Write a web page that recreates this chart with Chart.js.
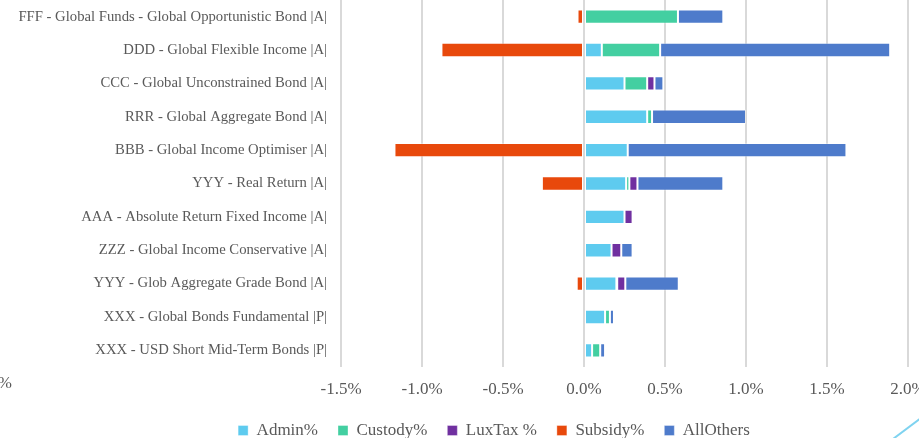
<!DOCTYPE html>
<html>
<head>
<meta charset="utf-8">
<script src="https://cdn.jsdelivr.net/npm/chart.js@4"></script>
<style>
html,body{margin:0;padding:0;background:#fff;}
#wrap{width:919px;height:438px;position:relative;}
</style>
</head>
<body>
<div id="wrap"><canvas id="myChart" width="919" height="438"></canvas></div>
<script>
const funds = [
"FFF - Global Funds - Global Opportunistic Bond |A|",
"DDD - Global Flexible Income |A|",
"CCC - Global Unconstrained Bond |A|",
"RRR - Global Aggregate Bond |A|",
"BBB - Global Income Optimiser |A|",
"YYY - Real Return |A|",
"AAA - Absolute Return Fixed Income |A|",
"ZZZ - Global Income Conservative |A|",
"YYY - Glob Aggregate Grade Bond |A|",
"XXX - Global Bonds Fundamental |P|",
"XXX - USD Short Mid-Term Bonds |P|"
]

const admin   = [0,    0.11, 0.25, 0.39, 0.27, 0.26, 0.25, 0.17, 0.20, 0.13, 0.05]
const custody = [0.58, 0.36, 0.14, 0.03, 0,    0.02, 0,    0,    0.005,0.03, 0.05]
const luxTax  = [0,    0,    0.045,0,    0,    0.05, 0.05, 0.06, 0.05, 0,    0]
const subsidy = [-0.04,-0.88,0,    0,   -1.17,-0.26, 0,    0,   -0.045,0,    0]
const allOthers=[0.28, 1.42, 0.055,0.58, 1.35, 0.53, 0,    0.07, 0.33, 0.025,0.03]

const xTicksMin = -1.5
const xTicksMax = 2.0

const serif = "'Liberation Serif', 'DejaVu Serif', serif"
const grey = "#595959"

// legend in the picture is not centred on the canvas, push it right
const legendShift = {
id:"legendShift",
afterLayout(chart){
const lg = chart.legend
if(!lg) return
lg.left += 40
lg.right += 40
}
}

// stray bits that sit at the edges of the picture
const extras = {
id:"extras",
afterDraw(chart){
const ctx = chart.ctx
ctx.save()
ctx.fillStyle = grey
ctx.font = "17px " + serif
ctx.textBaseline = "middle"
ctx.textAlign = "right"
ctx.fillText("%", 12, 384)
ctx.strokeStyle = "#7fd3f0"
ctx.lineWidth = 2
ctx.beginPath()
ctx.moveTo(893, 439)
ctx.lineTo(921, 418)
ctx.stroke()
ctx.restore()
}
}

function ds(label, data, color){
return {
label:label,
data:data,
backgroundColor:color,
borderColor:"rgba(255,255,255,0.35)",
borderWidth:1,
borderSkipped:false,
barPercentage:0.43,
categoryPercentage:1
}
}

new Chart(
document.getElementById("myChart"),
{
type:"bar",
data:{
labels:funds,
datasets:[
ds("Admin%", admin, "#5ecbef"),
ds("Custody%", custody, "#43cfa1"),
ds("LuxTax %", luxTax, "#7030a0"),
ds("Subsidy%", subsidy, "#e8490c"),
ds("AllOthers", allOthers, "#4e7bcb")
]
},
options:{
indexAxis:"y",
responsive:false,
animation:false,
layout:{padding:{left:0, right:11, top:0, bottom:-11}},
scales:{
x:{
stacked:true,
min:xTicksMin,
max:xTicksMax,
ticks:{
stepSize:0.5,
padding:12,
color:grey,
font:{family:serif, size:17},
callback:v => v.toFixed(1) + "%"
},
grid:{color:"#d9d9d9", lineWidth:2, drawTicks:false},
border:{display:false},
afterFit:s => {
s.height = 35
s.paddingLeft = 0
s.paddingRight = 0
}
},
y:{
stacked:true,
ticks:{
padding:14,
color:grey,
autoSkip:false,
font:{family:serif, size:14.7}
},
grid:{display:false, drawTicks:false},
border:{display:false},
afterFit:s => {
s.width = 341
s.paddingTop = 0
s.paddingBottom = 0
}
}
},
plugins:{
legend:{
position:"bottom",
labels:{
boxWidth:10,
boxHeight:10,
padding:20,
color:grey,
font:{family:serif, size:17}
}
},
tooltip:{enabled:false}
}
},
plugins:[legendShift, extras]
})
</script>
</body>
</html>
